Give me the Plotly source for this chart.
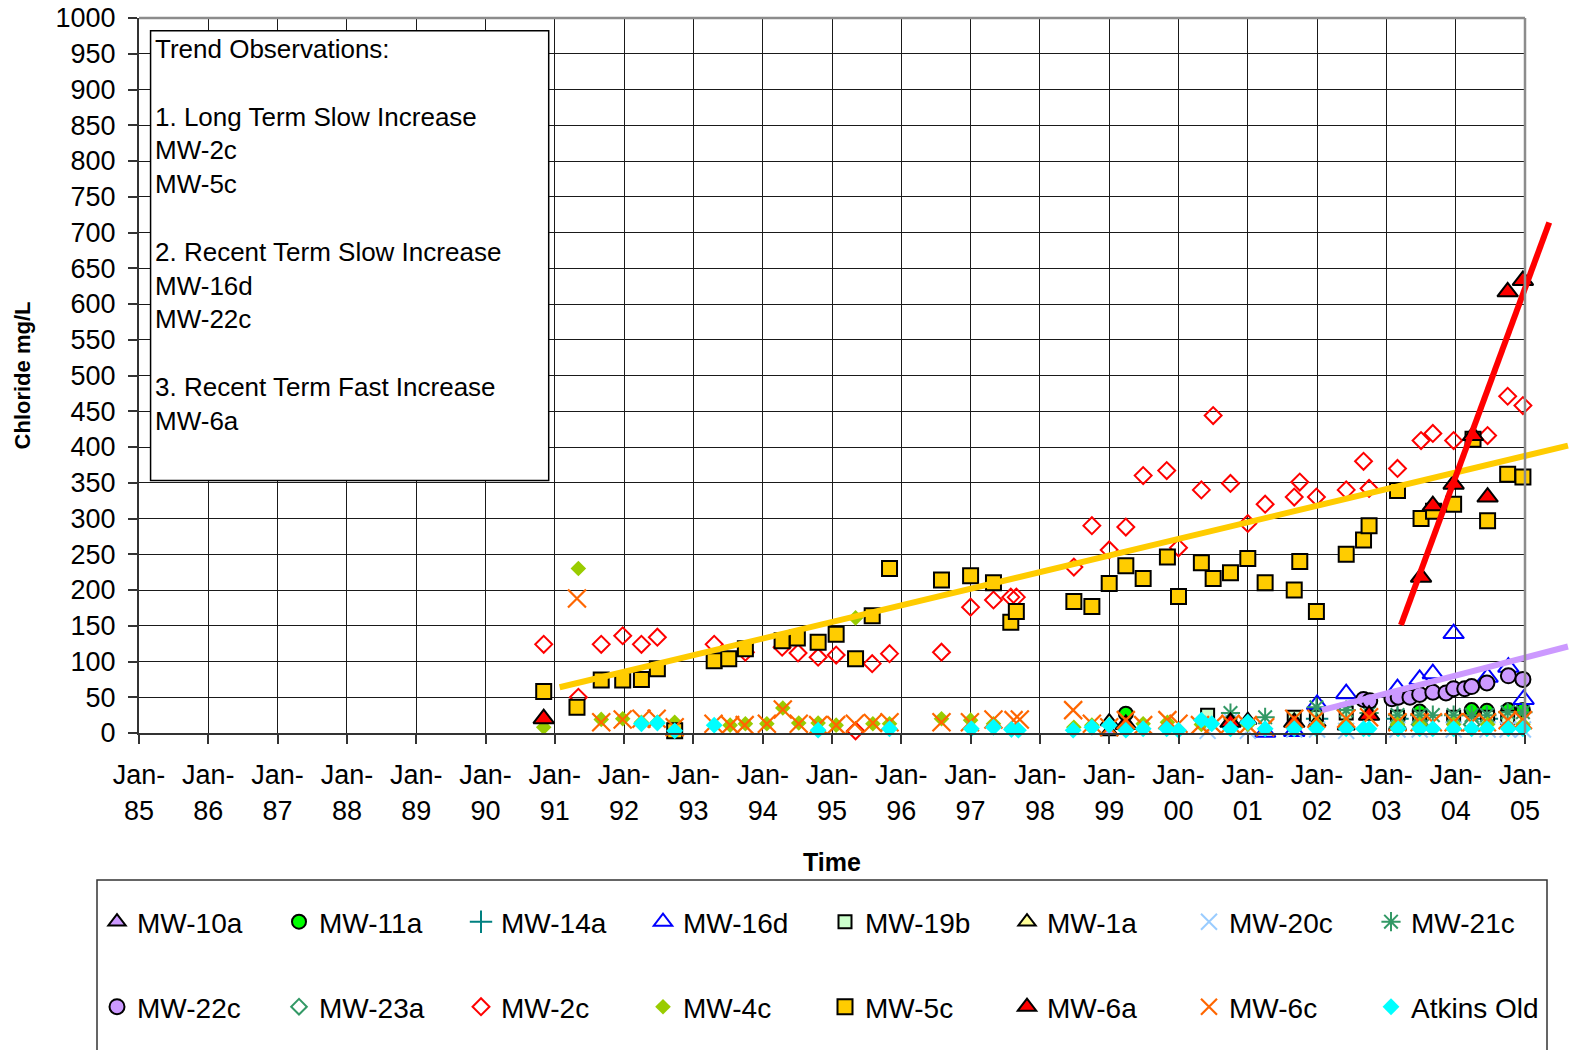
import plotly.graph_objects as go

# ---------------- data (decimal years, chloride mg/L) ----------------
years = list(range(1985, 2006))
year_labels = ["Jan-<br>%02d" % (y % 100) for y in years]

mw10a_t = [1999.00, 2002.42, 2003.16]
mw10a_v = [2, 10, 10]

mw11a_t = [1999.24, 2003.17, 2003.48, 2004.23, 2004.45, 2004.76, 2004.97]
mw11a_v = [27, 22, 30, 32, 31, 32, 32]

mw14a_t = [2002.00, 2003.16, 2004.45]
mw14a_v = [20, 20, 20]

mw16d_t = [2001.25, 2001.67, 2002.00, 2002.42, 2003.16, 2003.48, 2003.67, 2003.97, 2004.46, 2004.76, 2004.98]
mw16d_v = [1, 2, 40, 55, 62, 75, 83, 139, 78, 92, 47]

mw19b_t = [2000.42, 2001.67, 2001.99, 2002.42, 2003.16, 2003.48, 2003.97, 2004.46, 2004.75]
mw19b_v = [25, 22, 22, 28, 22, 22, 22, 22, 22]

mw1a_t = [1999.00, 2001.00, 2001.67, 2002.00]
mw1a_v = [16, 18, 15, 15]

mw20c_t = [2000.42, 2000.75, 2001.00, 2001.67, 2002.00, 2002.42, 2003.16, 2003.48, 2003.97, 2004.46, 2004.75, 2004.97]
mw20c_v = [3, 18, 3, 5, 5, 3, 5, 5, 5, 5, 5, 5]

mw21c_t = [2000.75, 2001.25, 2001.99, 2002.42, 2002.75, 2003.16, 2003.48, 2003.67, 2003.97, 2004.23, 2004.45, 2004.75, 2004.97]
mw21c_v = [28, 22, 36, 32, 28, 25, 25, 25, 25, 25, 25, 29, 29]

mw22c_t = [2002.67, 2002.76, 2003.08, 2003.17, 2003.34, 2003.48, 2003.67, 2003.86, 2003.97, 2004.13, 2004.23, 2004.45, 2004.76, 2004.97]
mw22c_v = [47, 45, 48, 50, 50, 54, 57, 56, 62, 62, 65, 70, 80, 75]

mw23a_t = [2003.16, 2003.48, 2004.23]
mw23a_v = [8, 12, 12]

mw2c_t = [1990.84, 1991.34, 1991.67, 1991.98, 1992.25, 1992.48, 1993.30, 1993.75, 1994.28, 1994.51,
          1994.80, 1995.06, 1995.34, 1995.58, 1995.83, 1996.58, 1997.00, 1997.33, 1997.58, 1997.66,
          1998.49, 1998.75, 1999.00, 1999.24, 1999.49, 1999.83, 2000.00, 2000.33, 2000.50, 2000.75,
          2001.00, 2001.25, 2001.67, 2001.75, 2001.99, 2002.42, 2002.67, 2002.75, 2003.16, 2003.50,
          2003.67, 2003.97, 2004.46, 2004.75, 2004.97]
mw2c_v = [124, 50, 124, 136, 124, 134, 124, 113, 120, 112,
          106, 109, 3, 97, 111, 113, 176, 186, 190, 190,
          232, 290, 256, 288, 360, 367, 259, 340, 444, 349,
          293, 320, 330, 351, 330, 340, 380, 342, 370, 409,
          419, 409, 416, 471, 458]

mw4c_t = [1990.84, 1991.34, 1991.67, 1991.98, 1992.25, 1992.48, 1992.73, 1993.53, 1993.75, 1994.06,
          1994.29, 1994.52, 1994.80, 1995.06, 1995.34, 1995.59, 1995.83, 1996.58, 1997.00, 1997.33,
          1998.49, 1998.75, 1999.49, 1999.84, 2000.33, 2001.00, 2001.67, 2002.00, 2002.42, 2003.16,
          2003.48, 2003.97, 2004.46, 2004.97]
mw4c_v = [8, 230, 19, 20, 15, 15, 15, 11, 13, 13,
          35, 14, 14, 11, 161, 13, 13, 20, 18, 13,
          8, 11, 13, 15, 12, 12, 12, 12, 12, 12,
          12, 12, 12, 12]

mw5c_t = [1990.84, 1991.32, 1991.67, 1991.98, 1992.25, 1992.48, 1992.73, 1993.30, 1993.51, 1993.75,
          1994.28, 1994.50, 1994.80, 1995.06, 1995.34, 1995.58, 1995.83, 1996.58, 1997.00, 1997.33,
          1997.58, 1997.66, 1998.49, 1998.75, 1999.00, 1999.24, 1999.49, 1999.84, 2000.00, 2000.33,
          2000.50, 2000.75, 2001.00, 2001.25, 2001.67, 2001.75, 2001.99, 2002.42, 2002.67, 2002.75,
          2003.16, 2003.50, 2003.68, 2003.97, 2004.25, 2004.46, 2004.75, 2004.97]
mw5c_v = [58, 36, 74, 74, 75, 90, 3, 101, 104, 118,
          129, 133, 127, 138, 104, 164, 230, 214, 220, 210,
          155, 170, 184, 177, 209, 234, 216, 246, 191, 238,
          216, 224, 244, 210, 200, 240, 170, 250, 270, 290,
          339, 300, 310, 320, 411, 297, 362, 358]

mw6a_t = [1990.84, 1999.24, 2000.75, 2001.67, 2002.75, 2003.50, 2003.67, 2003.97, 2004.25, 2004.46, 2004.75, 2004.97]
mw6a_v = [20, 12, 15, 15, 25, 218, 318, 348, 416, 330, 617, 633]

mw6c_t = [1991.32, 1991.67, 1991.98, 1992.25, 1992.47, 1992.73, 1993.29, 1993.53, 1993.74, 1994.06,
          1994.29, 1994.52, 1994.80, 1995.06, 1995.33, 1995.59, 1995.83, 1996.58, 1996.99, 1997.33,
          1997.62, 1997.71, 1998.48, 1998.75, 1999.00, 1999.24, 1999.49, 1999.84, 2000.00, 2000.31,
          2000.50, 2000.75, 2001.00, 2001.25, 2001.67, 2001.99, 2002.42, 2002.75, 2003.16, 2003.48,
          2003.67, 2003.97, 2004.23, 2004.45, 2004.75, 2004.97]
mw6c_v = [188, 15, 19, 20, 20, 8, 13, 11, 11, 13,
          33, 13, 11, 11, 13, 14, 15, 15, 15, 19,
          18, 19, 32, 13, 8, 18, 11, 18, 13, 11,
          11, 13, 11, 8, 20, 20, 20, 22, 15, 15,
          15, 15, 15, 15, 18, 18]

atkins_t = [1992.25, 1992.48, 1992.73, 1993.30, 1994.80, 1995.83, 1997.01, 1997.33, 1997.59, 1997.69,
            1998.48, 1998.75, 1999.00, 1999.24, 1999.49, 1999.83, 2000.00, 2000.33, 2000.48, 2000.75,
            2001.00, 2001.25, 2001.67, 2001.99, 2002.42, 2002.67, 2002.75, 2003.17, 2003.48, 2003.67,
            2003.97, 2004.23, 2004.45, 2004.76, 2004.97]
atkins_v = [13, 14, 3, 11, 4, 6, 6, 8, 5, 4,
            4, 8, 11, 4, 6, 6, 4, 18, 13, 6,
            15, 6, 6, 6, 6, 6, 6, 6, 6, 6,
            6, 6, 6, 6, 6]

# trend lines (end points)
trend5c_t = [1991.07, 2005.62]
trend5c_v = [64, 402]
trend6a_t = [2003.21, 2005.35]
trend6a_v = [151, 714]
trend22c_t = [2002.07, 2005.62]
trend22c_v = [32, 121]

note_lines = ["Trend Observations:", "", "1. Long Term Slow Increase", "MW-2c", "MW-5c", "",
              "2. Recent Term Slow Increase", "MW-16d", "MW-22c", "",
              "3. Recent Term Fast Increase", "MW-6a"]

# ---------------- layout geometry ----------------
FONT = "Arial, Liberation Sans, Helvetica, sans-serif"
OFF = 0                      # body margin removed by post_script
W, H = 1572, 1050
ML, MR, MT, MB = 139, 0, 18, 317
PW = W - ML - MR
PH = H - MT - MB
MAIN_W = 1386
D = MAIN_W / PW


def px_x(px):
    return (px - OFF - ML) / PW


def px_y(py):
    return (OFF + H - MB - py) / PH


fig = go.Figure()

blk = dict(color="black", width=2)
series = [
    ("MW-10a", mw10a_t, mw10a_v, dict(symbol="triangle-up", color="#CC99FF", size=15, line=blk), "legend"),
    ("MW-11a", mw11a_t, mw11a_v, dict(symbol="circle", color="#00FF00", size=14, line=blk), "legend"),
    ("MW-14a", mw14a_t, mw14a_v, dict(symbol="cross-thin-open", color="#008080", size=16, line=dict(color="#008080", width=2)), "legend"),
    ("MW-16d", mw16d_t, mw16d_v, dict(symbol="triangle-up-open", color="#0000FF", size=18, line=dict(color="#0000FF", width=2)), "legend"),
    ("MW-19b", mw19b_t, mw19b_v, dict(symbol="square", color="#CCFFCC", size=13, line=blk), "legend"),
    ("MW-1a", mw1a_t, mw1a_v, dict(symbol="triangle-up", color="#FFFF99", size=15, line=blk), "legend"),
    ("MW-20c", mw20c_t, mw20c_v, dict(symbol="x-thin-open", color="#99CCFF", size=16, line=dict(color="#99CCFF", width=2)), "legend"),
    ("MW-21c", mw21c_t, mw21c_v, dict(symbol="asterisk-open", color="#339966", size=16, line=dict(color="#339966", width=2)), "legend"),
    ("MW-22c", mw22c_t, mw22c_v, dict(symbol="circle", color="#CC99FF", size=15, line=blk), "legend2"),
    ("MW-23a", mw23a_t, mw23a_v, dict(symbol="diamond-open", color="#339966", size=12, line=dict(color="#339966", width=2)), "legend2"),
    ("MW-2c", mw2c_t, mw2c_v, dict(symbol="diamond-open", color="#FF0000", size=13, line=dict(color="#FF0000", width=2)), "legend2"),
    ("MW-4c", mw4c_t, mw4c_v, dict(symbol="diamond", color="#99CC00", size=12, line=dict(width=0)), "legend2"),
    ("MW-5c", mw5c_t, mw5c_v, dict(symbol="square", color="#FFCC00", size=15, line=blk), "legend2"),
    ("MW-6a", mw6a_t, mw6a_v, dict(symbol="triangle-up", color="#FF0000", size=18, line=blk), "legend2"),
    ("MW-6c", mw6c_t, mw6c_v, dict(symbol="x-thin-open", color="#FF6600", size=18, line=dict(color="#FF6600", width=2.2)), "legend2"),
    ("Atkins Old", atkins_t, atkins_v, dict(symbol="diamond", color="#00FFFF", size=13, line=dict(width=0)), "legend2"),
]

for name, t, v, mk, lg in series:
    fig.add_trace(go.Scatter(x=t, y=v, mode="markers", name=name, marker=mk,
                             legend=lg, cliponaxis=False, xaxis="x", yaxis="y"))

for t, v, col in [(trend5c_t, trend5c_v, "#FFCC00"), (trend22c_t, trend22c_v, "#CC99FF"),
                  (trend6a_t, trend6a_v, "#FF0000")]:
    fig.add_trace(go.Scatter(x=t, y=v, mode="lines", line=dict(color=col, width=6),
                             showlegend=False, hoverinfo="skip", xaxis="x2", yaxis="y2"))

GRID = "#1a1a1a"
AX = "#333333"
tickfont = dict(family=FONT, size=27, color="black")

# note box in data coordinates
box_x0, box_x1 = 1985.167, 1990.912
box_y0, box_y1 = 353, 982
fig.add_shape(type="rect", xref="x", yref="y", x0=box_x0, x1=box_x1, y0=box_y0, y1=box_y1,
              line=dict(color="black", width=1.5), fillcolor="white", layer="above")
fig.add_annotation(xref="x", yref="y", x=box_x0 + 0.03, y=box_y1 - 1, xanchor="left", yanchor="top",
                   align="left", showarrow=False, text="<br>".join(note_lines),
                   font=dict(family=FONT, size=26, color="black"))

# plot frame (top / right) in grey
fig.add_shape(type="line", xref="paper", yref="paper", x0=0, x1=D, y0=1, y1=1,
              line=dict(color="#8c8c8c", width=2.5), layer="above")
fig.add_shape(type="line", xref="paper", yref="paper", x0=D, x1=D, y0=0, y1=1,
              line=dict(color="#8c8c8c", width=2.5), layer="above")

# legend frame
fig.add_shape(type="rect", xref="paper", yref="paper", x0=px_x(97), x1=px_x(1547),
              y0=px_y(1075), y1=px_y(880), line=dict(color="#333333", width=1.5))

legend_common = dict(orientation="h", xanchor="left", yanchor="middle", bgcolor="rgba(0,0,0,0)",
                     borderwidth=0, font=dict(family=FONT, size=28, color="black"),
                     entrywidth=137, entrywidthmode="pixels", itemclick=False)

fig.update_layout(
    template="none",
    width=W, height=H,
    margin=dict(l=ML, r=MR, t=MT, b=MB, autoexpand=False),
    paper_bgcolor="white", plot_bgcolor="rgba(0,0,0,0)",
    font=dict(family=FONT, color="black"),
    xaxis=dict(domain=[0, D], range=[1985, 2005], tickmode="array", tickvals=years, ticktext=year_labels,
               showgrid=True, gridcolor=GRID, gridwidth=1, zeroline=False,
               showline=True, linecolor=AX, linewidth=2, ticks="outside", ticklen=9, tickcolor=AX,
               tickwidth=1.5, tickfont=tickfont, ticklabelstandoff=8, ticklabeloverflow="allow", anchor="y",
               title=dict(text="<b>Time</b>", font=dict(family=FONT, size=25, color="black"), standoff=29)),
    yaxis=dict(domain=[0, 1], range=[0, 1000], tickmode="linear", tick0=0, dtick=50,
               showgrid=True, gridcolor=GRID, gridwidth=1, zeroline=False,
               showline=True, linecolor=AX, linewidth=2, ticks="outside", ticklen=9, tickcolor=AX,
               tickwidth=1.5, tickfont=tickfont, ticklabelstandoff=7, ticklabeloverflow="allow", anchor="x",
               title=dict(text="<b>Chloride mg/L</b>", font=dict(family=FONT, size=22, color="black"), standoff=19)),
    xaxis2=dict(domain=[0, 1], range=[1985, 1985 + 20 / D], visible=False, anchor="y2", fixedrange=True),
    yaxis2=dict(domain=[0, 1], range=[0, 1000], visible=False, anchor="x2", fixedrange=True),
    legend=dict(x=px_x(97), y=px_y(922), **legend_common),
    legend2=dict(x=px_x(97), y=px_y(1007), **legend_common),
    showlegend=True,
)

fig.write_html("out.html", config={"displayModeBar": False},
               post_script="document.body.style.margin='0px';document.body.style.overflow='hidden';")
